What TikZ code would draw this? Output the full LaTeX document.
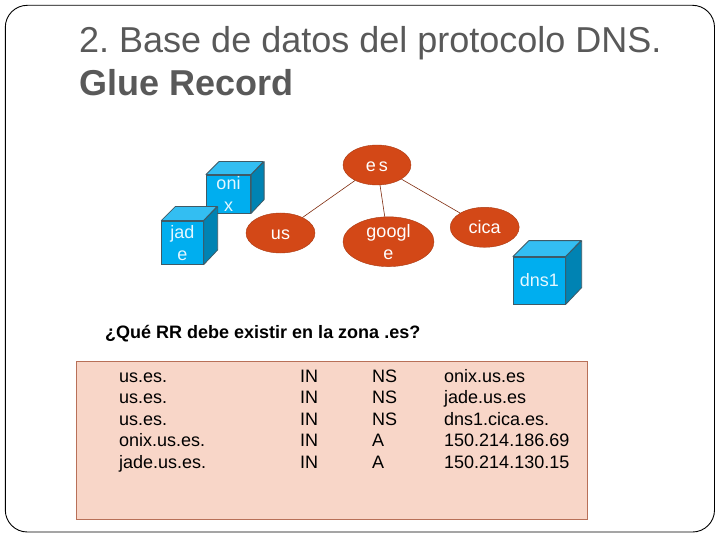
\documentclass[tikz,border=0pt]{standalone}
\usepackage{fontspec}
\setmainfont{Liberation Sans}
\usetikzlibrary{positioning, calc, shapes.geometric}
\frenchspacing

\definecolor{zonered}{HTML}{D34817}
\definecolor{cubefront}{HTML}{00AEEF}
\definecolor{cubetop}{HTML}{33BEF2}
\definecolor{cubeside}{HTML}{0083B3}
\definecolor{cubeline}{HTML}{3F5A66}
\definecolor{cubetext}{HTML}{E4F7FF}
\definecolor{tablefill}{HTML}{F8D6C8}
\definecolor{tableline}{HTML}{B87058}
\definecolor{titlegray}{HTML}{595959}

% front face as a node, then the two faces behind it
\newcommand{\servercube}[6]{%
  \node[cubeface,minimum width=#3pt,minimum height=#4pt] (#1) at (#2) {#6};
  \draw[cubeedge,fill=cubetop] (#1.north west) -- ++(#5,-#5) -- ++(#3,0) -- (#1.north east) -- cycle;
  \draw[cubeedge,fill=cubeside] (#1.north east) -- ++(#5,-#5) -- ++(0,#4) -- (#1.south east) -- cycle;
}

\begin{document}
\begin{tikzpicture}[
    x=1pt,y=-1pt,
    zone/.style={ellipse,draw=zonered!80!black,fill=zonered,text=white,font=\fontsize{18}{22}\selectfont,
      inner sep=0pt},
    oneline/.style={text height=13pt,text depth=0pt},
    cubeface/.style={draw=cubeline,fill=cubefront,text=cubetext,line width=0.8pt,inner sep=0pt,align=center,
      font=\fontsize{18}{22}\selectfont},
    cubeedge/.style={draw=cubeline,line width=0.8pt,line join=round},
    link/.style={draw=zonered!60!black,line width=0.6pt},
    headline/.style={anchor=base west,inner sep=0pt,text=titlegray,font=\fontsize{36}{42}\selectfont},
    column/.style={anchor=base west,inner sep=0pt,align=left,text=black,font=\fontsize{18}{21.5}\selectfont}
  ]
  \useasboundingbox (0,0) rectangle (720,540);
  \draw[black,line width=0.9pt,rounded corners=22pt] (5.3,5.3) rectangle (714.5,532);

  \node[headline] (title) at (79,53) {2. Base de datos del protocolo DNS.};
  \node[headline,font=\fontsize{36}{42}\selectfont\bfseries] (subtitle) at (79,96) {Glue Record};

  % zone tree
  \node[zone,oneline,minimum width=68pt,minimum height=40pt] (es) at (377,165) {e\,s};
  \node[zone,oneline,minimum width=69pt,minimum height=40pt] (us) at (280.5,233) {us};
  \node[zone,align=center,minimum width=91pt,minimum height=45pt] (google) at (388.5,241.7) {googl\\e};
  \node[zone,oneline,minimum width=69pt,minimum height=40pt] (cica) at (484.7,227.3) {cica};
  \draw[link] (es) -- (us);
  \draw[link] (es) -- (google);
  \draw[link] (es) -- (cica);

  % name servers
  \servercube{onix}{228.5,194}{44.4}{38}{13}{oni\\x}
  \servercube{jade}{182.5,242.6}{41.6}{43.3}{14}{jad\\e}
  \servercube{dns1}{539.3,280.5}{52}{47}{16}{dns1}

  \node[anchor=base west,inner sep=0pt,font=\fontsize{18}{20}\selectfont\bfseries] (question) at (105,338)
    {¿Qué RR debe existir en la zona .es?};

  % glue records
  \node[draw=tableline,fill=tablefill,line width=0.8pt,minimum width=511pt,minimum height=158pt,
    inner sep=0pt] (records) at (331.5,440) {};
  \node[column] (names) at (119,468) {us.es.\\us.es.\\us.es.\\onix.us.es.\\jade.us.es.};
  \node[column] (classes) at (300,468) {IN\\IN\\IN\\IN\\IN};
  \node[column] (types) at (372,468) {NS\\NS\\NS\\A\\A};
  \node[column] (values) at (444,468)
    {onix.us.es\\jade.us.es\\dns1.cica.es.\\150.214.186.69\\150.214.130.15};
\end{tikzpicture}
\end{document}
